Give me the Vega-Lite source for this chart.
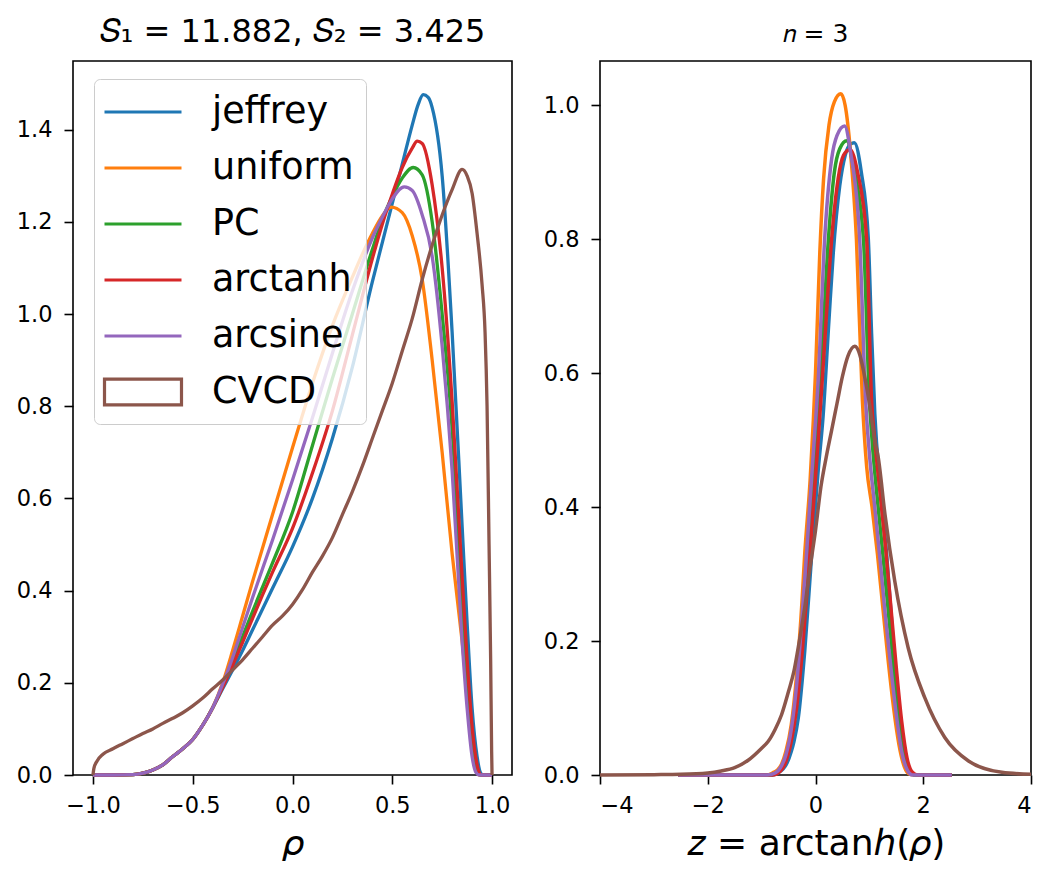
{
  "$schema": "https://vega.github.io/schema/vega-lite/v6.json",
  "padding": {"left": 15, "top": 15, "right": 5, "bottom": 5},
  "config": {
    "font": "DejaVu Sans",
    "view": {"stroke": "#000", "strokeWidth": 1.6},
    "axis": {"grid": false, "domain": false, "tickColor": "#000", "tickSize": 9, "tickWidth": 1.6, "labelFontSize": 22.5, "labelColor": "#000", "titleFontSize": 36, "titleFontWeight": "normal", "titleColor": "#000"},
    "axisX": {"labelPadding": 10, "titlePadding": 10},
    "axisY": {"labelPadding": 12},
    "title": {"fontWeight": "normal", "color": "#000"}
  },
  "datasets": {
    "L": [
      {"s":"jeffrey","x":-1.0,"y":0},{"s":"jeffrey","x":-0.9,"y":0},{"s":"jeffrey","x":-0.8,"y":0.001},{"s":"jeffrey","x":-0.75,"y":0.004},{"s":"jeffrey","x":-0.7,"y":0.011},{"s":"jeffrey","x":-0.65,"y":0.022},{"s":"jeffrey","x":-0.6,"y":0.04},{"s":"jeffrey","x":-0.55,"y":0.057},{"s":"jeffrey","x":-0.5,"y":0.077},{"s":"jeffrey","x":-0.45,"y":0.108},{"s":"jeffrey","x":-0.4,"y":0.146},
      {"s":"jeffrey","x":-0.35,"y":0.187},{"s":"jeffrey","x":-0.3,"y":0.228},{"s":"jeffrey","x":-0.25,"y":0.27},{"s":"jeffrey","x":-0.2,"y":0.315},{"s":"jeffrey","x":-0.1,"y":0.405},{"s":"jeffrey","x":0,"y":0.495},{"s":"jeffrey","x":0.1,"y":0.6},{"s":"jeffrey","x":0.2,"y":0.73},{"s":"jeffrey","x":0.3,"y":0.885},{"s":"jeffrey","x":0.4,"y":1.07},{"s":"jeffrey","x":0.45,"y":1.155},{"s":"jeffrey","x":0.5,"y":1.24},{"s":"jeffrey","x":0.55,"y":1.325},{"s":"jeffrey","x":0.6,"y":1.41},{"s":"jeffrey","x":0.63,"y":1.455},{"s":"jeffrey","x":0.655,"y":1.476},{"s":"jeffrey","x":0.68,"y":1.47},{"s":"jeffrey","x":0.7,"y":1.448},{"s":"jeffrey","x":0.75,"y":1.3},{"s":"jeffrey","x":0.8,"y":0.96},{"s":"jeffrey","x":0.85,"y":0.54},{"s":"jeffrey","x":0.875,"y":0.33},{"s":"jeffrey","x":0.9,"y":0.145},{"s":"jeffrey","x":0.925,"y":0.04},{"s":"jeffrey","x":0.945,"y":0.003},{"s":"jeffrey","x":0.96,"y":0},{"s":"jeffrey","x":1.0,"y":0},
      {"s":"uniform","x":-1.0,"y":0},{"s":"uniform","x":-0.9,"y":0},{"s":"uniform","x":-0.8,"y":0.001},{"s":"uniform","x":-0.75,"y":0.004},{"s":"uniform","x":-0.7,"y":0.011},{"s":"uniform","x":-0.65,"y":0.022},{"s":"uniform","x":-0.6,"y":0.04},{"s":"uniform","x":-0.55,"y":0.057},{"s":"uniform","x":-0.5,"y":0.077},{"s":"uniform","x":-0.45,"y":0.108},{"s":"uniform","x":-0.4,"y":0.146},
      {"s":"uniform","x":-0.35,"y":0.2},{"s":"uniform","x":-0.3,"y":0.27},{"s":"uniform","x":-0.25,"y":0.345},{"s":"uniform","x":-0.2,"y":0.42},{"s":"uniform","x":-0.1,"y":0.565},{"s":"uniform","x":0,"y":0.71},{"s":"uniform","x":0.1,"y":0.85},{"s":"uniform","x":0.2,"y":0.975},{"s":"uniform","x":0.3,"y":1.08},{"s":"uniform","x":0.35,"y":1.13},{"s":"uniform","x":0.4,"y":1.175},{"s":"uniform","x":0.45,"y":1.213},{"s":"uniform","x":0.495,"y":1.232},{"s":"uniform","x":0.55,"y":1.22},{"s":"uniform","x":0.6,"y":1.17},{"s":"uniform","x":0.65,"y":1.075},{"s":"uniform","x":0.7,"y":0.9},{"s":"uniform","x":0.75,"y":0.7},{"s":"uniform","x":0.8,"y":0.48},{"s":"uniform","x":0.85,"y":0.29},{"s":"uniform","x":0.875,"y":0.185},{"s":"uniform","x":0.9,"y":0.075},{"s":"uniform","x":0.92,"y":0.02},{"s":"uniform","x":0.935,"y":0},{"s":"uniform","x":1.0,"y":0},
      {"s":"PC","x":-1.0,"y":0},{"s":"PC","x":-0.9,"y":0},{"s":"PC","x":-0.8,"y":0.001},{"s":"PC","x":-0.75,"y":0.004},{"s":"PC","x":-0.7,"y":0.011},{"s":"PC","x":-0.65,"y":0.022},{"s":"PC","x":-0.6,"y":0.04},{"s":"PC","x":-0.55,"y":0.057},{"s":"PC","x":-0.5,"y":0.077},{"s":"PC","x":-0.45,"y":0.108},{"s":"PC","x":-0.4,"y":0.146},
      {"s":"PC","x":-0.35,"y":0.193},{"s":"PC","x":-0.3,"y":0.245},{"s":"PC","x":-0.25,"y":0.3},{"s":"PC","x":-0.2,"y":0.355},{"s":"PC","x":-0.1,"y":0.46},{"s":"PC","x":0,"y":0.57},{"s":"PC","x":0.1,"y":0.715},{"s":"PC","x":0.2,"y":0.86},{"s":"PC","x":0.3,"y":1.0},{"s":"PC","x":0.4,"y":1.14},{"s":"PC","x":0.45,"y":1.205},{"s":"PC","x":0.5,"y":1.255},{"s":"PC","x":0.55,"y":1.295},{"s":"PC","x":0.605,"y":1.318},{"s":"PC","x":0.65,"y":1.302},{"s":"PC","x":0.7,"y":1.2},{"s":"PC","x":0.75,"y":1.0},{"s":"PC","x":0.8,"y":0.75},{"s":"PC","x":0.85,"y":0.36},{"s":"PC","x":0.875,"y":0.19},{"s":"PC","x":0.9,"y":0.07},{"s":"PC","x":0.925,"y":0.012},{"s":"PC","x":0.94,"y":0},{"s":"PC","x":1.0,"y":0},
      {"s":"arctanh","x":-1.0,"y":0},{"s":"arctanh","x":-0.9,"y":0},{"s":"arctanh","x":-0.8,"y":0.001},{"s":"arctanh","x":-0.75,"y":0.004},{"s":"arctanh","x":-0.7,"y":0.011},{"s":"arctanh","x":-0.65,"y":0.022},{"s":"arctanh","x":-0.6,"y":0.04},{"s":"arctanh","x":-0.55,"y":0.057},{"s":"arctanh","x":-0.5,"y":0.077},{"s":"arctanh","x":-0.45,"y":0.108},{"s":"arctanh","x":-0.4,"y":0.146},
      {"s":"arctanh","x":-0.35,"y":0.19},{"s":"arctanh","x":-0.3,"y":0.238},{"s":"arctanh","x":-0.25,"y":0.288},{"s":"arctanh","x":-0.2,"y":0.34},{"s":"arctanh","x":-0.1,"y":0.44},{"s":"arctanh","x":0,"y":0.535},{"s":"arctanh","x":0.1,"y":0.655},{"s":"arctanh","x":0.2,"y":0.79},{"s":"arctanh","x":0.3,"y":0.955},{"s":"arctanh","x":0.4,"y":1.12},{"s":"arctanh","x":0.45,"y":1.195},{"s":"arctanh","x":0.5,"y":1.26},{"s":"arctanh","x":0.55,"y":1.318},{"s":"arctanh","x":0.6,"y":1.36},{"s":"arctanh","x":0.625,"y":1.375},{"s":"arctanh","x":0.65,"y":1.37},{"s":"arctanh","x":0.7,"y":1.28},{"s":"arctanh","x":0.75,"y":1.1},{"s":"arctanh","x":0.8,"y":0.81},{"s":"arctanh","x":0.85,"y":0.43},{"s":"arctanh","x":0.875,"y":0.25},{"s":"arctanh","x":0.9,"y":0.105},{"s":"arctanh","x":0.925,"y":0.022},{"s":"arctanh","x":0.945,"y":0},{"s":"arctanh","x":1.0,"y":0},
      {"s":"arcsine","x":-1.0,"y":0},{"s":"arcsine","x":-0.9,"y":0},{"s":"arcsine","x":-0.8,"y":0.001},{"s":"arcsine","x":-0.75,"y":0.004},{"s":"arcsine","x":-0.7,"y":0.011},{"s":"arcsine","x":-0.65,"y":0.022},{"s":"arcsine","x":-0.6,"y":0.04},{"s":"arcsine","x":-0.55,"y":0.057},{"s":"arcsine","x":-0.5,"y":0.077},{"s":"arcsine","x":-0.45,"y":0.108},{"s":"arcsine","x":-0.4,"y":0.146},
      {"s":"arcsine","x":-0.35,"y":0.197},{"s":"arcsine","x":-0.3,"y":0.255},{"s":"arcsine","x":-0.25,"y":0.32},{"s":"arcsine","x":-0.2,"y":0.385},{"s":"arcsine","x":-0.1,"y":0.51},{"s":"arcsine","x":0,"y":0.64},{"s":"arcsine","x":0.1,"y":0.775},{"s":"arcsine","x":0.2,"y":0.915},{"s":"arcsine","x":0.3,"y":1.05},{"s":"arcsine","x":0.4,"y":1.165},{"s":"arcsine","x":0.45,"y":1.21},{"s":"arcsine","x":0.5,"y":1.25},{"s":"arcsine","x":0.56,"y":1.276},{"s":"arcsine","x":0.6,"y":1.268},{"s":"arcsine","x":0.65,"y":1.215},{"s":"arcsine","x":0.7,"y":1.125},{"s":"arcsine","x":0.75,"y":0.93},{"s":"arcsine","x":0.8,"y":0.66},{"s":"arcsine","x":0.85,"y":0.29},{"s":"arcsine","x":0.875,"y":0.145},{"s":"arcsine","x":0.9,"y":0.04},{"s":"arcsine","x":0.92,"y":0.005},{"s":"arcsine","x":0.935,"y":0},{"s":"arcsine","x":1.0,"y":0},
      {"s":"CVCD","x":-1.0,"y":0},{"s":"CVCD","x":-0.995,"y":0.015},{"s":"CVCD","x":-0.98,"y":0.03},{"s":"CVCD","x":-0.95,"y":0.045},{"s":"CVCD","x":-0.9,"y":0.057},{"s":"CVCD","x":-0.85,"y":0.068},{"s":"CVCD","x":-0.8,"y":0.079},{"s":"CVCD","x":-0.75,"y":0.09},{"s":"CVCD","x":-0.7,"y":0.1},{"s":"CVCD","x":-0.65,"y":0.112},{"s":"CVCD","x":-0.6,"y":0.123},{"s":"CVCD","x":-0.55,"y":0.135},{"s":"CVCD","x":-0.5,"y":0.15},{"s":"CVCD","x":-0.45,"y":0.167},{"s":"CVCD","x":-0.4,"y":0.187},{"s":"CVCD","x":-0.35,"y":0.206},{"s":"CVCD","x":-0.3,"y":0.228},{"s":"CVCD","x":-0.25,"y":0.25},{"s":"CVCD","x":-0.2,"y":0.275},{"s":"CVCD","x":-0.15,"y":0.3},{"s":"CVCD","x":-0.1,"y":0.325},{"s":"CVCD","x":-0.05,"y":0.345},{"s":"CVCD","x":0,"y":0.37},{"s":"CVCD","x":0.05,"y":0.402},{"s":"CVCD","x":0.1,"y":0.44},{"s":"CVCD","x":0.15,"y":0.475},{"s":"CVCD","x":0.2,"y":0.515},{"s":"CVCD","x":0.25,"y":0.565},{"s":"CVCD","x":0.3,"y":0.615},{"s":"CVCD","x":0.35,"y":0.67},{"s":"CVCD","x":0.4,"y":0.73},{"s":"CVCD","x":0.45,"y":0.79},{"s":"CVCD","x":0.5,"y":0.85},{"s":"CVCD","x":0.55,"y":0.92},{"s":"CVCD","x":0.6,"y":0.99},{"s":"CVCD","x":0.65,"y":1.075},{"s":"CVCD","x":0.7,"y":1.15},{"s":"CVCD","x":0.75,"y":1.215},{"s":"CVCD","x":0.8,"y":1.27},{"s":"CVCD","x":0.85,"y":1.314},{"s":"CVCD","x":0.875,"y":1.3},{"s":"CVCD","x":0.9,"y":1.262},{"s":"CVCD","x":0.925,"y":1.175},{"s":"CVCD","x":0.95,"y":1.064},{"s":"CVCD","x":0.965,"y":0.96},{"s":"CVCD","x":0.975,"y":0.8},{"s":"CVCD","x":0.985,"y":0.5},{"s":"CVCD","x":0.993,"y":0.25},{"s":"CVCD","x":0.998,"y":0.05},{"s":"CVCD","x":1.0,"y":0}
    ],
    "R": [
      {"s":"jeffrey","x":-2.55,"y":0},{"s":"jeffrey","x":-0.8,"y":0},{"s":"jeffrey","x":-0.7,"y":0.003},{"s":"jeffrey","x":-0.6,"y":0.009},{"s":"jeffrey","x":-0.54,"y":0.016},{"s":"jeffrey","x":-0.45,"y":0.035},{"s":"jeffrey","x":-0.4,"y":0.05},{"s":"jeffrey","x":-0.32,"y":0.085},{"s":"jeffrey","x":-0.2,"y":0.185},{"s":"jeffrey","x":-0.07,"y":0.33},{"s":"jeffrey","x":0.05,"y":0.455},{"s":"jeffrey","x":0.14,"y":0.535},{"s":"jeffrey","x":0.25,"y":0.68},{"s":"jeffrey","x":0.33,"y":0.78},{"s":"jeffrey","x":0.45,"y":0.88},{"s":"jeffrey","x":0.55,"y":0.925},{"s":"jeffrey","x":0.65,"y":0.942},{"s":"jeffrey","x":0.72,"y":0.944},{"s":"jeffrey","x":0.85,"y":0.9},{"s":"jeffrey","x":0.98,"y":0.8},{"s":"jeffrey","x":1.04,"y":0.66},{"s":"jeffrey","x":1.1,"y":0.54},{"s":"jeffrey","x":1.2,"y":0.43},{"s":"jeffrey","x":1.32,"y":0.33},{"s":"jeffrey","x":1.45,"y":0.19},{"s":"jeffrey","x":1.56,"y":0.085},{"s":"jeffrey","x":1.65,"y":0.03},{"s":"jeffrey","x":1.75,"y":0.006},{"s":"jeffrey","x":1.85,"y":0},{"s":"jeffrey","x":2.53,"y":0},
      {"s":"uniform","x":-2.55,"y":0},{"s":"uniform","x":-0.9,"y":0},{"s":"uniform","x":-0.8,"y":0.003},{"s":"uniform","x":-0.7,"y":0.008},{"s":"uniform","x":-0.63,"y":0.016},{"s":"uniform","x":-0.55,"y":0.035},{"s":"uniform","x":-0.45,"y":0.075},{"s":"uniform","x":-0.35,"y":0.15},{"s":"uniform","x":-0.25,"y":0.26},{"s":"uniform","x":-0.2,"y":0.33},{"s":"uniform","x":-0.1,"y":0.44},{"s":"uniform","x":-0.04,"y":0.53},{"s":"uniform","x":0,"y":0.6},{"s":"uniform","x":0.08,"y":0.78},{"s":"uniform","x":0.15,"y":0.89},{"s":"uniform","x":0.25,"y":0.97},{"s":"uniform","x":0.35,"y":1.005},{"s":"uniform","x":0.47,"y":1.017},{"s":"uniform","x":0.55,"y":1.0},{"s":"uniform","x":0.65,"y":0.93},{"s":"uniform","x":0.76,"y":0.8},{"s":"uniform","x":0.87,"y":0.56},{"s":"uniform","x":0.95,"y":0.46},{"s":"uniform","x":1.05,"y":0.4},{"s":"uniform","x":1.15,"y":0.33},{"s":"uniform","x":1.25,"y":0.25},{"s":"uniform","x":1.35,"y":0.17},{"s":"uniform","x":1.45,"y":0.1},{"s":"uniform","x":1.55,"y":0.045},{"s":"uniform","x":1.65,"y":0.012},{"s":"uniform","x":1.75,"y":0.001},{"s":"uniform","x":1.85,"y":0},{"s":"uniform","x":2.53,"y":0},
      {"s":"PC","x":-2.55,"y":0},{"s":"PC","x":-0.85,"y":0},{"s":"PC","x":-0.7,"y":0.004},{"s":"PC","x":-0.6,"y":0.015},{"s":"PC","x":-0.5,"y":0.04},{"s":"PC","x":-0.4,"y":0.08},{"s":"PC","x":-0.3,"y":0.15},{"s":"PC","x":-0.2,"y":0.25},{"s":"PC","x":-0.1,"y":0.36},{"s":"PC","x":0,"y":0.48},{"s":"PC","x":0.1,"y":0.6},{"s":"PC","x":0.24,"y":0.8},{"s":"PC","x":0.35,"y":0.9},{"s":"PC","x":0.45,"y":0.935},{"s":"PC","x":0.58,"y":0.947},{"s":"PC","x":0.7,"y":0.91},{"s":"PC","x":0.89,"y":0.8},{"s":"PC","x":1.0,"y":0.56},{"s":"PC","x":1.05,"y":0.5},{"s":"PC","x":1.15,"y":0.41},{"s":"PC","x":1.25,"y":0.33},{"s":"PC","x":1.35,"y":0.245},{"s":"PC","x":1.45,"y":0.16},{"s":"PC","x":1.55,"y":0.085},{"s":"PC","x":1.65,"y":0.03},{"s":"PC","x":1.75,"y":0.006},{"s":"PC","x":1.85,"y":0},{"s":"PC","x":2.53,"y":0},
      {"s":"arctanh","x":-2.55,"y":0},{"s":"arctanh","x":-0.8,"y":0},{"s":"arctanh","x":-0.65,"y":0.006},{"s":"arctanh","x":-0.55,"y":0.02},{"s":"arctanh","x":-0.45,"y":0.05},{"s":"arctanh","x":-0.35,"y":0.1},{"s":"arctanh","x":-0.25,"y":0.18},{"s":"arctanh","x":-0.15,"y":0.28},{"s":"arctanh","x":-0.05,"y":0.39},{"s":"arctanh","x":0.05,"y":0.5},{"s":"arctanh","x":0.15,"y":0.62},{"s":"arctanh","x":0.3,"y":0.8},{"s":"arctanh","x":0.42,"y":0.89},{"s":"arctanh","x":0.52,"y":0.925},{"s":"arctanh","x":0.64,"y":0.934},{"s":"arctanh","x":0.78,"y":0.9},{"s":"arctanh","x":0.95,"y":0.8},{"s":"arctanh","x":1.04,"y":0.56},{"s":"arctanh","x":1.1,"y":0.5},{"s":"arctanh","x":1.2,"y":0.42},{"s":"arctanh","x":1.3,"y":0.34},{"s":"arctanh","x":1.4,"y":0.25},{"s":"arctanh","x":1.5,"y":0.16},{"s":"arctanh","x":1.6,"y":0.08},{"s":"arctanh","x":1.7,"y":0.025},{"s":"arctanh","x":1.8,"y":0.004},{"s":"arctanh","x":1.9,"y":0},{"s":"arctanh","x":2.53,"y":0},
      {"s":"arcsine","x":-2.55,"y":0},{"s":"arcsine","x":-0.9,"y":0},{"s":"arcsine","x":-0.75,"y":0.003},{"s":"arcsine","x":-0.63,"y":0.014},{"s":"arcsine","x":-0.55,"y":0.03},{"s":"arcsine","x":-0.45,"y":0.068},{"s":"arcsine","x":-0.35,"y":0.135},{"s":"arcsine","x":-0.25,"y":0.235},{"s":"arcsine","x":-0.15,"y":0.35},{"s":"arcsine","x":-0.05,"y":0.47},{"s":"arcsine","x":0.05,"y":0.59},{"s":"arcsine","x":0.17,"y":0.8},{"s":"arcsine","x":0.3,"y":0.92},{"s":"arcsine","x":0.4,"y":0.955},{"s":"arcsine","x":0.54,"y":0.969},{"s":"arcsine","x":0.65,"y":0.93},{"s":"arcsine","x":0.82,"y":0.8},{"s":"arcsine","x":0.93,"y":0.56},{"s":"arcsine","x":1.0,"y":0.48},{"s":"arcsine","x":1.1,"y":0.4},{"s":"arcsine","x":1.2,"y":0.32},{"s":"arcsine","x":1.3,"y":0.235},{"s":"arcsine","x":1.4,"y":0.16},{"s":"arcsine","x":1.5,"y":0.09},{"s":"arcsine","x":1.6,"y":0.035},{"s":"arcsine","x":1.7,"y":0.008},{"s":"arcsine","x":1.8,"y":0},{"s":"arcsine","x":2.53,"y":0},
      {"s":"CVCD","x":-4,"y":0},{"s":"CVCD","x":-3,"y":0.0005},{"s":"CVCD","x":-2.5,"y":0.001},{"s":"CVCD","x":-2,"y":0.003},{"s":"CVCD","x":-1.75,"y":0.006},{"s":"CVCD","x":-1.5,"y":0.011},{"s":"CVCD","x":-1.25,"y":0.022},{"s":"CVCD","x":-1,"y":0.04},{"s":"CVCD","x":-0.88,"y":0.05},{"s":"CVCD","x":-0.75,"y":0.068},{"s":"CVCD","x":-0.63,"y":0.09},{"s":"CVCD","x":-0.5,"y":0.125},{"s":"CVCD","x":-0.4,"y":0.155},{"s":"CVCD","x":-0.3,"y":0.2},{"s":"CVCD","x":-0.2,"y":0.25},{"s":"CVCD","x":-0.1,"y":0.31},{"s":"CVCD","x":0,"y":0.365},{"s":"CVCD","x":0.1,"y":0.43},{"s":"CVCD","x":0.2,"y":0.475},{"s":"CVCD","x":0.3,"y":0.515},{"s":"CVCD","x":0.4,"y":0.555},{"s":"CVCD","x":0.5,"y":0.595},{"s":"CVCD","x":0.6,"y":0.625},{"s":"CVCD","x":0.73,"y":0.64},{"s":"CVCD","x":0.82,"y":0.628},{"s":"CVCD","x":0.9,"y":0.6},{"s":"CVCD","x":1.0,"y":0.555},{"s":"CVCD","x":1.1,"y":0.5},{"s":"CVCD","x":1.165,"y":0.474},{"s":"CVCD","x":1.29,"y":0.389},{"s":"CVCD","x":1.47,"y":0.29},{"s":"CVCD","x":1.72,"y":0.19},{"s":"CVCD","x":2.03,"y":0.115},{"s":"CVCD","x":2.4,"y":0.056},{"s":"CVCD","x":2.84,"y":0.021},{"s":"CVCD","x":3.46,"y":0.004},{"s":"CVCD","x":4,"y":0.001}
    ]
  },
  "resolve": {"legend": {"color": "independent"}},
  "spacing": 29,
  "hconcat": [
    {
      "width": 439,
      "height": 714,
      "title": {"text": "𝑆₁ = 11.882, 𝑆₂ = 3.425", "fontSize": 32, "offset": 12},
      "data": {"name": "L"},
      "mark": {"type": "line", "interpolate": "monotone", "strokeWidth": 3.3},
      "encoding": {
        "x": {"field": "x", "type": "quantitative", "scale": {"domain": [-1.1, 1.1], "nice": false, "zero": false}, "axis": {"values": [-1, -0.5, 0, 0.5, 1], "format": ".1f", "title": "𝜌"}},
        "y": {"field": "y", "type": "quantitative", "scale": {"domain": [0, 1.549], "nice": false}, "axis": {"values": [0, 0.2, 0.4, 0.6, 0.8, 1.0, 1.2, 1.4], "format": ".1f", "title": null}},
        "color": {
          "field": "s", "type": "nominal", "sort": null,
          "scale": {"domain": ["jeffrey", "uniform", "PC", "arctanh", "arcsine", "CVCD"], "range": ["#1f77b4", "#ff7f0e", "#2ca02c", "#d62728", "#9467bd", "#8c564b"]},
          "legend": {
            "orient": "none", "legendX": 21, "legendY": 18, "title": null,
            "symbolType": "M-2,0H2", "symbolSize": 1482, "symbolStrokeWidth": 3.2,
            "labelFontSize": 36.5, "labelColor": "#000", "labelOffset": 48, "labelLimit": 400,
            "labelExpr": "datum.label + '\u00a0'",
            "rowPadding": 16, "padding": 12, "symbolOffset": 16,
            "fillColor": "rgba(255,255,255,0.8)", "strokeColor": "#cccccc", "cornerRadius": 6,
            "encode": {"symbols": {"update": {"shape": {"signal": "datum.label === 'CVCD' ? 'M-2,-0.67H2V0.67H-2Z' : 'M-2,0H2'"}, "fill": {"value": "transparent"}}}}
          }
        },
        "strokeWidth": {"condition": {"test": "datum.s === 'CVCD'", "value": 3}, "value": 3.3}
      }
    },
    {
      "width": 431,
      "height": 714,
      "title": {"text": "𝑛 = 3", "fontSize": 25, "offset": 14},
      "data": {"name": "R"},
      "mark": {"type": "line", "interpolate": "monotone", "strokeWidth": 3.5},
      "encoding": {
        "x": {"field": "x", "type": "quantitative", "scale": {"domain": [-4, 4], "nice": false, "zero": false}, "axis": {"values": [-4, -2, 0, 2, 4], "format": "d", "title": "𝑧 = arctanℎ(𝜌)"}},
        "y": {"field": "y", "type": "quantitative", "scale": {"domain": [0, 1.066], "nice": false}, "axis": {"values": [0, 0.2, 0.4, 0.6, 0.8, 1.0], "format": ".1f", "title": null}},
        "color": {"field": "s", "type": "nominal", "sort": null, "scale": {"domain": ["jeffrey", "uniform", "PC", "arctanh", "arcsine", "CVCD"], "range": ["#1f77b4", "#ff7f0e", "#2ca02c", "#d62728", "#9467bd", "#8c564b"]}, "legend": null},
        "strokeWidth": {"condition": {"test": "datum.s === 'CVCD'", "value": 2}, "value": 3.5}
      }
    }
  ]
}
